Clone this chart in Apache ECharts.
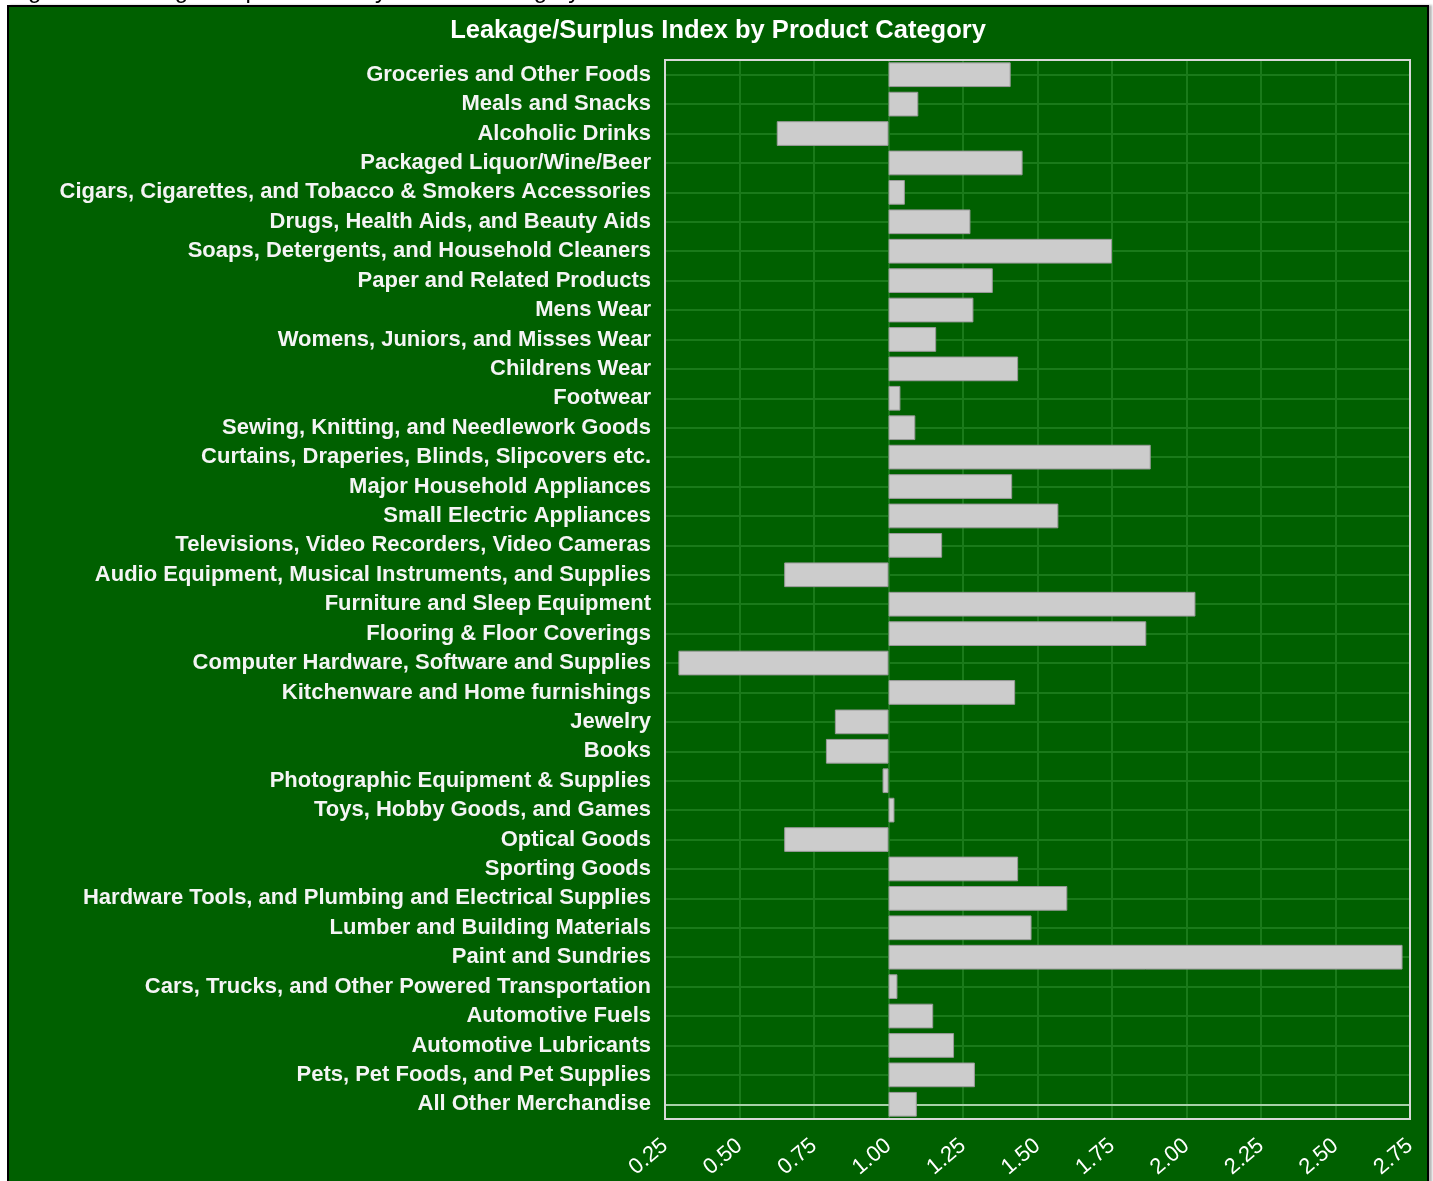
<!doctype html>
<html lang="en">
<head>
	<meta charset="UTF-8">
	<title>Leakage/Surplus Index by Product Category</title>
	<style>
		html, body { margin: 0; padding: 0; background: #ffffff; overflow: hidden; }
		#panel { position: absolute; left: 7px; top: 5px; width: 1418px; height: 1200px;
			background: #006000; border: 2px solid #000; box-shadow: 3px 0 2px #b8b8b8; }
		#main { position: absolute; left: 0; top: 0; width: 1433px; height: 1181px; }
	</style>
</head>
<body>
<div id="panel"></div>
<div id="main"></div>
<script src="https://cdn.jsdelivr.net/npm/echarts@6/dist/echarts.min.js"></script>
<script type="text/javascript">
	// categories, top to bottom as in the picture
	var categories = [
		'Groceries and Other Foods',
		'Meals and Snacks',
		'Alcoholic Drinks',
		'Packaged Liquor/Wine/Beer',
		'Cigars, Cigarettes, and Tobacco & Smokers Accessories',
		'Drugs, Health Aids, and Beauty Aids',
		'Soaps, Detergents, and Household Cleaners',
		'Paper and Related Products',
		'Mens Wear',
		'Womens, Juniors, and Misses Wear',
		'Childrens Wear',
		'Footwear',
		'Sewing, Knitting, and Needlework Goods',
		'Curtains, Draperies, Blinds, Slipcovers etc.',
		'Major Household Appliances',
		'Small Electric Appliances',
		'Televisions, Video Recorders, Video Cameras',
		'Audio Equipment, Musical Instruments, and Supplies',
		'Furniture and Sleep Equipment',
		'Flooring & Floor Coverings',
		'Computer Hardware, Software and Supplies',
		'Kitchenware and Home furnishings',
		'Jewelry',
		'Books',
		'Photographic Equipment & Supplies',
		'Toys, Hobby Goods, and Games',
		'Optical Goods',
		'Sporting Goods',
		'Hardware Tools, and Plumbing and Electrical Supplies',
		'Lumber and Building Materials',
		'Paint and Sundries',
		'Cars, Trucks, and Other Powered Transportation',
		'Automotive Fuels',
		'Automotive Lubricants',
		'Pets, Pet Foods, and Pet Supplies',
		'All Other Merchandise'
	];

	// leakage/surplus index (1.00 = balanced)
	var indexValues = [
		1.41, 1.10, 0.625, 1.45, 1.055, 1.275, 1.75, 1.35, 1.285, 1.16,
		1.435, 1.04, 1.09, 1.88, 1.415, 1.57, 1.18, 0.65, 2.03, 1.865,
		0.295, 1.425, 0.82, 0.79, 0.98, 1.02, 0.65, 1.435, 1.60, 1.48,
		2.725, 1.03, 1.15, 1.22, 1.29, 1.095
	];

	var tickLabels = ['0.25', '0.50', '0.75', '1.00', '1.25', '1.50', '1.75', '2.00', '2.25', '2.50', '2.75'];
	var baseline = 1.0;

	// plot frame (layout only)
	var gridBox = { left: 665, top: 60, width: 745, height: 1059 };

	var myChart = echarts.init(document.getElementById('main'));

	// bars are drawn as distance from the 1.00 baseline
	var offsets = indexValues.map(function (v) { return +(v - baseline).toFixed(4); });

	// one faint guide line through the middle of every row
	var rowLines = categories.map(function (c) { return { yAxis: c }; });

	var option = {
		backgroundColor: 'transparent',
		animation: false,
		textStyle: { fontFamily: '"Liberation Sans", Arial, sans-serif' },
		graphic: [
			{
				type: 'text', left: 8, top: -21,
				style: { text: 'Figure 5: Leakage/Surplus Index by Product Category', fill: '#000', font: '24px "Liberation Sans", Arial, sans-serif' }
			},
			{
				type: 'rect', z: 100, silent: true,
				shape: { x: gridBox.left, y: gridBox.top, width: gridBox.width, height: gridBox.height },
				style: { fill: null, stroke: '#d8d8d8', lineWidth: 2 }
			}
		],
		title: {
			text: 'Leakage/Surplus Index by Product Category',
			left: 713, top: 13, textAlign: 'center',
			textStyle: { color: '#ffffff', fontSize: 25.5, fontWeight: 'bold' }
		},
		grid: {
			left: gridBox.left, top: gridBox.top,
			right: 1433 - gridBox.left - gridBox.width,
			bottom: 1181 - gridBox.top - gridBox.height,
			show: false
		},
		xAxis: {
			type: 'value',
			min: -0.75, max: 1.75, interval: 0.25,
			position: 'bottom',
			axisLine: { show: false, onZero: false },
			axisTick: { show: false },
			axisLabel: {
				color: '#ffffff', fontSize: 22, rotate: 40, margin: 24,
				formatter: function (v) {
					var i = Math.round((v + 0.75) / 0.25);
					return tickLabels[i];
				}
			},
			splitLine: { show: true, lineStyle: { color: '#1a7a1a', width: 2 } }
		},
		yAxis: {
			type: 'category',
			data: categories,
			inverse: true,
			axisLine: { show: false },
			axisTick: { show: false },
			axisLabel: { color: '#f4f4f4', fontSize: 22, fontWeight: 'bold', margin: 14 },
			splitLine: { show: false }
		},
		series: [
			{
				name: 'Index',
				type: 'bar',
				z: 3,
				data: offsets,
				barCategoryGap: '16%',
				itemStyle: { color: '#cccccc', borderColor: '#9a9a9a', borderWidth: 1 },
				markLine: {
					silent: true, symbol: 'none', z: 1,
					label: { show: false },
					lineStyle: { color: '#1a7a1a', width: 2, type: 'solid' },
					data: rowLines.slice(0, -1).concat([
						{ yAxis: 'All Other Merchandise', lineStyle: { color: '#a8d0a8', width: 2, type: 'solid' } }
					])
				}
			}
		]
	};

	myChart.setOption(option);
</script>
</body>
</html>
